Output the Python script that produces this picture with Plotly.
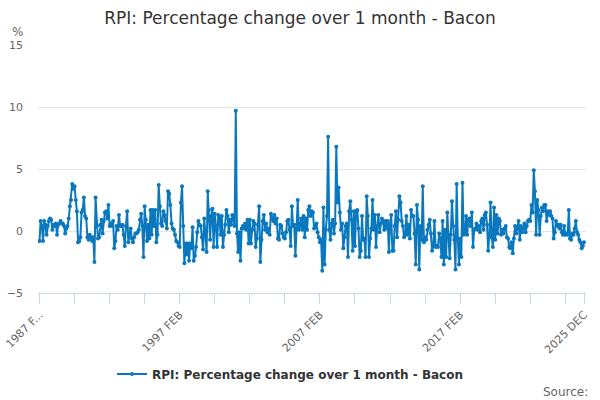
#!/usr/bin/python3
''' RPI: percentage change over 1 month for bacon, Feb 1987 to Dec 2025.
Line chart in the ONS / Highcharts look.
'''
import plotly.graph_objects as go

TITLE = 'RPI: Percentage change over 1 month - Bacon'
SERIES_NAME = 'RPI: Percentage change over 1 month - Bacon'
MONTHS = ['JAN', 'FEB', 'MAR', 'APR', 'MAY', 'JUN',
          'JUL', 'AUG', 'SEP', 'OCT', 'NOV', 'DEC']

# month labels, 1987 FEB .. 2025 DEC
periods = []
for year in range(1987, 2026):
    for mon in MONTHS:
        if year == 1987 and mon == 'JAN':
            continue
        periods.append('%d %s' % (year, mon))

# monthly % change (each row = 12 months from Feb)
values = [
    -0.8, 0.8, 0.4, -0.8, 0.8, 0.5, -0.3, 0.4, 0.8, 1.0, 0.9, 0.1,
    0.5, 0.4, 0.6, -0.3, 0.5, 0.6, 0.8, 0.6, 0.6, 0.4, -0.2, 0.2,
    0.4, 1.0, 2.0, 2.5, 3.8, 3.4, 3.6, 2.5, 1.6, -0.9, -0.8, -0.5,
    1.5, 1.7, 2.7, 1.2, 1.0, -0.5, -0.7, -0.3, -0.5, -0.8, -0.5, -2.5,
    2.7, 0.4, -0.6, -0.5, 0.5, 0.9, -0.2, 0.8, 1.5, 1.6, 1.0, 2.1,
    0.4, 0.6, 0.4, 0.8, -1.4, -0.8, 0.4, 0.1, 1.3, 0.4, 0.4, 0.5,
    -0.3, -1.2, 0.4, 1.6, -0.9, -0.2, 0.2, -0.6, -0.9, -0.5, -0.2, -0.2,
    -0.1, 0.1, 0.9, 1.4, 0.4, -2.1, 2.0, 0.9, -0.8, 0.5, -0.6, 1.7,
    -0.3, 1.7, 0.4, 1.7, -0.9, -0.3, 3.7, 2.0, 0.6, 0.4, 1.6, 1.3,
    0.8, 0.2, 3.2, 3.0, 2.1, 0.6, 0.2, 0.1, -0.3, -0.8, -0.9, -1.2,
    -1.3, 2.3, 3.6, 0.4, -2.6, -1.0, -1.9, -1.0, -2.4, -1.0, -1.4, 0.3,
    -2.4, -2.0, -1.3, -0.1, 0.8, 0.5, 0.4, -0.5, -1.5, 1.0, -0.2, -1.7,
    3.2, 1.7, -0.7, 1.2, 1.8, -1.3, 1.4, 0.4, -1.3, 1.3, 1.0, -0.3,
    1.2, -1.3, -0.3, 0.5, 1.7, 1.2, -0.1, 0.9, 0.5, 1.3, 0.9, 0.4,
    9.7, -0.2, -1.7, -0.1, -2.4, 0.2, 0.4, 0.2, 0.6, 0.1, 0.9, -1.0,
    0.9, -1.0, 0.1, 0.8, 0.6, -1.3, -0.6, 0.5, 2.0, -2.5, -0.7, 0.8,
    1.3, 0.1, 0.6, -0.1, 0.2, -0.3, 1.4, 1.0, 0.8, 1.3, 0.6, 1.0,
    -0.6, -0.7, 0.5, 0.4, -0.2, -0.5, -0.6, -0.1, 0.8, 0.9, 0.1, -1.2,
    2.0, 0.4, 0.5, -2.0, 0.2, 2.5, 0.1, 0.4, 1.0, 0.1, 1.2, -0.5,
    1.0, 0.1, 1.7, 2.0, 1.2, 1.6, 1.5, 0.2, 0.4, 0.6, -0.1, -0.5,
    -0.9, -0.7, -3.2, 1.9, -2.7, 0.1, 1.2, 7.6, 0.1, -0.7, 0.6, 0.9,
    -0.2, 0.6, 6.8, 2.3, 3.5, 1.5, 0.1, 0.6, -1.4, -0.5, 0.4, 0.6,
    -2.1, 1.6, 2.4, 0.9, -1.6, 1.6, -1.2, 1.6, 1.7, 0.2, -2.1, -1.6,
    1.2, -0.7, -0.6, -2.1, 2.8, 1.2, -2.1, -0.6, 0.2, 2.5, 0.1, 1.3,
    -1.3, 0.4, 1.3, -0.1, 0.6, 1.0, 0.8, 0.1, 0.8, 0.2, 0.8, -1.7,
    0.5, 1.3, -1.6, -1.6, 0.4, 1.6, -0.5, 0.9, 2.8, 2.3, 0.8, 0.4,
    -0.5, -0.3, 1.2, -0.3, 0.5, -0.6, 1.7, 1.2, 1.2, -0.2, -2.7, 2.1,
    0.9, -3.1, 0.4, -0.7, 3.6, -0.9, -0.5, -0.7, 0.1, 0.5, 0.9, -0.2,
    -1.6, -1.2, 0.8, -1.3, -1.2, -1.3, -0.2, -0.6, -2.1, 0.8, -2.7, 0.1,
    -2.1, 1.5, -0.3, -2.2, -0.3, 2.4, 0.4, -0.7, -3.1, 3.8, -0.6, -2.7,
    -0.6, -2.1, 3.9, -0.3, -0.2, 1.2, -0.3, 0.9, 1.0, 0.4, 1.5, -1.3,
    0.1, 0.2, 0.6, 0.1, 0.4, -0.1, 0.8, 1.0, 0.1, 1.3, 1.5, 0.5,
    -1.6, -0.3, 2.3, -0.5, -1.3, 1.9, -0.7, 1.3, -0.2, 1.0, 0.8, -0.3,
    0.1, -0.2, 0.2, 0.4, -0.5, -0.6, -1.3, -1.4, -0.9, -1.8, -0.6, 0.4,
    -0.2, 0.2, 0.8, -0.7, 0.4, -0.1, 0.2, 0.6, -0.1, 0.4, 0.8, 0.9,
    0.8, 2.1, 1.5, 4.9, 3.2, -0.3, 2.5, 1.7, -0.3, 1.2, 1.9, 1.6,
    2.1, 2.1, 0.8, 1.6, 1.3, 1.6, 1.2, 1.0, -0.6, -0.1, 0.8, 0.4,
    0.5, 0.2, 0.5, -0.1, -0.3, 0.4, -0.3, -0.2, -0.3, 1.7, -0.6, -0.7,
    -0.2, -0.3, 0.2, 0.8, -0.1, -0.3, -0.7, -0.9, -1.4, -1.2, -0.9,
]

if len(values) != len(periods):
    print('length mismatch', len(values), len(periods))

y_ticks = [-5, 0, 5, 10, 15]

# tick every 30 months, label every 120 and the last month
tick_idx = list(range(0, len(periods), 30)) + [len(periods) - 1]
tick_text = []
for i in tick_idx:
    if i == 0:
        tick_text.append('1987 F...')
    elif i % 120 == 0 or i == len(periods) - 1:
        tick_text.append(periods[i])
    else:
        tick_text.append('')

LINE = '#0a78be'
GREY = '#666666'
FONT = 'DejaVu Sans'

fig = go.Figure()
fig.add_trace(go.Scatter(
    x=list(range(len(periods))), y=values, name=SERIES_NAME,
    mode='lines+markers',
    line=dict(color=LINE, width=2),
    marker=dict(color=LINE, size=4),
    showlegend=True,
))

fig.update_layout(
    width=600, height=400,
    margin=dict(l=38, r=14, t=45, b=107, autoexpand=False),
    paper_bgcolor='white', plot_bgcolor='white',
    font=dict(family=FONT, size=11, color=GREY),
    title=dict(text=TITLE, x=0.5, xanchor='center', y=0.955, yanchor='middle',
               font=dict(family=FONT, size=17, color='#333333')),
    legend=dict(orientation='h', x=0.46, xanchor='center', y=-0.327, yanchor='middle',
                font=dict(family=FONT, size=12, color='#333333', weight='bold'),
                itemwidth=30),
    xaxis=dict(
        range=[-1.28, 467.7], automargin=False,
        tickmode='array', tickvals=tick_idx, ticktext=tick_text,
        tickangle=-45, ticks='outside', ticklen=10, tickcolor='#ccd6eb',
        showline=True, linecolor='#ccd6eb', linewidth=1,
        showgrid=False, zeroline=False,
        tickfont=dict(size=11, color=GREY),
    ),
    yaxis=dict(
        range=[-5, 15], tickvals=y_ticks, automargin=False,
        showgrid=True, gridcolor='#e6e6e6', gridwidth=1,
        zeroline=False, showline=False,
        ticklabelstandoff=14,
        tickfont=dict(size=11, color=GREY),
    ),
    annotations=[
        dict(text='%', xref='paper', yref='paper', x=-0.051, y=1.052,
             xanchor='left', yanchor='middle', showarrow=False,
             font=dict(size=12, color=GREY)),
        dict(text='Source:', xref='paper', yref='paper', x=1.007, y=-0.399,
             xanchor='right', yanchor='middle', showarrow=False,
             font=dict(size=12, color=GREY)),
    ],
)

fig.write_html('out.html', config={'displayModeBar': False},
               post_script="document.body.style.margin='0';")
